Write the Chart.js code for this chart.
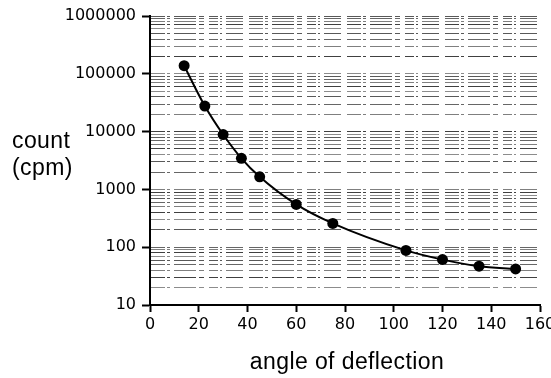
<!DOCTYPE html>
<html>
<head>
<meta charset="utf-8">
<script src="https://cdn.jsdelivr.net/npm/chart.js@4.4.1/dist/chart.umd.min.js"></script>
<style>
html,body{margin:0;padding:0;background:#fff;}
#wrap{width:551px;height:378px;}
</style>
</head>
<body>
<div id="wrap"><canvas id="c" width="551" height="378"></canvas></div>
<script>
const angles = [14, 22.5, 30, 37.5, 45, 60, 75, 105, 120, 135, 150];
const counts = [138000, 27700, 8900, 3450, 1650, 550, 258, 88, 61, 47, 42];
const xTicks = [0, 20, 40, 60, 80, 100, 120, 140, 160];
const yMajor = [10, 100, 1000, 10000, 100000, 1000000];
const yTitle = ["count", "(cpm)"];
const xTitle = "angle of deflection";

function isMajor(v) {
  const l = Math.log10(v);
  return Math.abs(l - Math.round(l)) < 1e-9;
}

const titlesPlugin = {
  id: 'titles',
  afterDraw(chart) {
    const ctx = chart.ctx;
    ctx.save();
    ctx.fillStyle = '#000';
    ctx.font = '23px "Liberation Sans", Arial, sans-serif';
    try { ctx.letterSpacing = '0.4px'; } catch (e) {}
    ctx.textBaseline = 'alphabetic';
    ctx.textAlign = 'left';
    ctx.fillText(yTitle[0], 12, 148);
    ctx.fillText(yTitle[1], 12, 175);
    ctx.textAlign = 'center';
    ctx.fillText(xTitle, 347, 369);
    ctx.restore();
  }
};

new Chart(document.getElementById('c'), {
  type: 'line',
  data: {
    datasets: [{
      data: angles.map((a, i) => ({x: a, y: counts[i]})),
      borderColor: '#000',
      backgroundColor: '#000',
      borderWidth: 2,
      pointRadius: 5.5,
      pointBorderWidth: 0,
      cubicInterpolationMode: 'monotone',
      fill: false
    }]
  },
  options: {
    responsive: false,
    animation: false,
    devicePixelRatio: 1,
    layout: { padding: { top: 16, right: 11, left: 0, bottom: 0 } },
    plugins: { legend: { display: false }, tooltip: { enabled: false } },
    scales: {
      x: {
        type: 'linear',
        min: 0, max: 160,
        afterBuildTicks(scale) { scale.ticks = xTicks.map(v => ({value: v})); },
        afterFit(scale) { scale.height = 73; scale.paddingLeft = 0; scale.paddingRight = 0; },
        ticks: {
          color: '#000',
          font: { family: '"DejaVu Sans", sans-serif', size: 16 },
          padding: 3,
          maxRotation: 0,
          autoSkip: false
        },
        grid: {
          drawOnChartArea: false,
          drawTicks: true,
          tickLength: 7,
          tickColor: '#000',
          tickWidth: 2
        },
        border: { display: true, color: '#000', width: 2 }
      },
      y: {
        type: 'logarithmic',
        min: 10, max: 1000000,
        afterBuildTicks(scale) {
          const t = [];
          for (let e = 1; e <= 5; e++) {
            for (let m = 1; m <= 9; m++) t.push({value: m * Math.pow(10, e)});
          }
          t.push({value: 1000000});
          scale.ticks = t;
        },
        afterFit(scale) { scale.width = 150; scale.paddingTop = 0; scale.paddingBottom = 0; },
        ticks: {
          color: '#000',
          font: { family: '"DejaVu Sans", sans-serif', size: 16 },
          padding: 6,
          autoSkip: false,
          callback(v) { return yMajor.includes(Math.round(v)) && isMajor(v) ? String(Math.round(v)) : ''; }
        },
        grid: {
          drawOnChartArea: true,
          drawTicks: true,
          tickLength: 8,
          color(ctx) {
            const v = ctx.tick ? ctx.tick.value : 0;
            if (v === 10) return 'rgba(0,0,0,0)';
            const k = ctx.index % 5;
            return ['rgba(0,0,0,0.65)', 'rgba(0,0,0,0.45)', 'rgba(0,0,0,0.75)', 'rgba(0,0,0,0.5)', 'rgba(0,0,0,0.6)'][k];
          },
          lineWidth: 1,
          tickColor(ctx) { return ctx.tick && isMajor(ctx.tick.value) ? '#000' : 'rgba(0,0,0,0)'; },
          tickWidth: 2
        },
        border: { display: true, color: '#000', width: 2, dash: [14, 2, 3, 4, 22, 3, 5, 5, 9, 2, 2, 4, 17, 6] }
      }
    }
  },
  plugins: [titlesPlugin]
});
</script>
</body>
</html>
